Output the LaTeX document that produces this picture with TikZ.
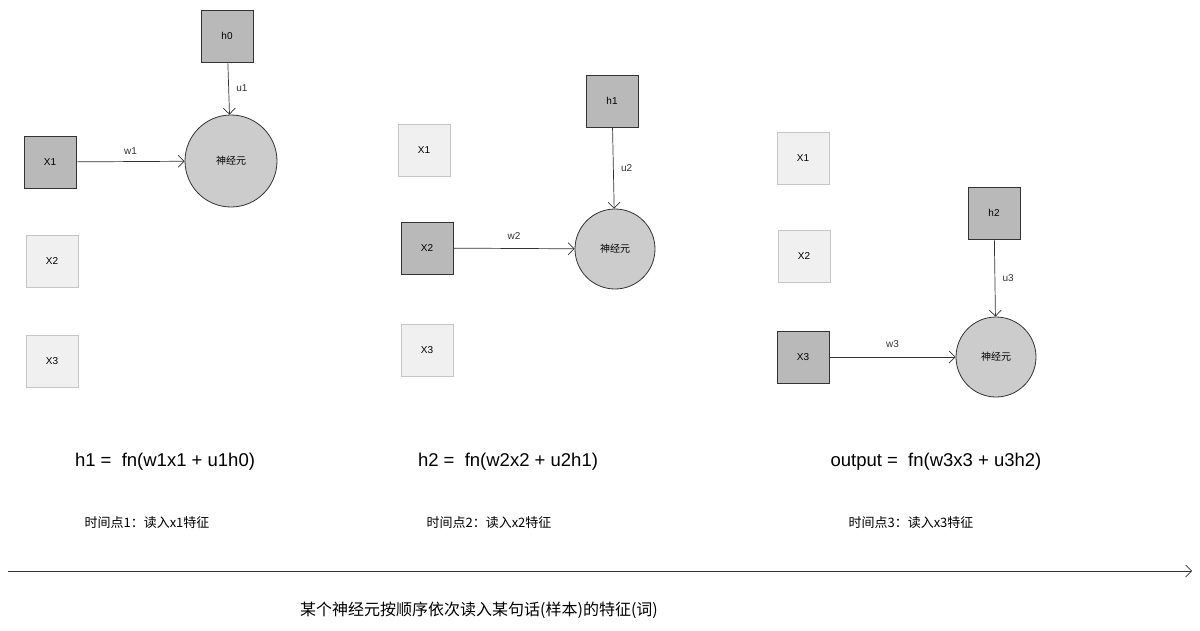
\documentclass[tikz,border=0pt]{standalone}
\usepackage{fontspec}
\setmainfont{Liberation Sans}
\newfontfamily\cjk{Noto Sans CJK SC}
\usetikzlibrary{arrows.meta}
\begin{document}
\begin{tikzpicture}[x=1pt,y=-1pt,
  dk/.style={draw=black!80,fill=gray!55,minimum size=52pt,inner sep=0pt,font=\fontsize{10}{12}\selectfont,line width=0.8pt},
  lt/.style={draw=gray!45,fill=gray!12,minimum size=52pt,inner sep=0pt,font=\fontsize{10}{12}\selectfont,line width=0.8pt},
  neu/.style={circle,draw=black!80,fill=gray!40,inner sep=0pt,font=\cjk\fontsize{10}{12}\selectfont,line width=0.8pt},
  arr/.style={-{Straight Barb[length=6pt]},line width=0.7pt,black!80},
  lab/.style={font=\fontsize{10}{12}\selectfont},
  fm/.style={font=\fontsize{18.5}{21}\selectfont},
  bm/.style={font=\cjk\fontsize{16}{19}\selectfont},
  tm/.style={font=\cjk\fontsize{13}{15}\selectfont}]
\useasboundingbox (0,0) rectangle (1200,630);
% panel 1
\node[dk] (h0) at (227,36) {h0};
\node[neu,minimum size=92pt] (n1) at (231,161) {神经元};
\node[dk] (a1) at (50,162) {X1};
\node[lt] (a2) at (52,261) {X2};
\node[lt] (a3) at (52,361) {X3};
\draw[arr] (a1) -- (n1) node[lab,midway,above=3pt] {w1};
\draw[arr] (h0) -- (n1) node[lab,midway,right=4pt] {u1};
\node[fm] (f1) at (165,462) {h1 =\ \ fn(w1x1 + u1h0)};
\node[tm] (t1) at (147,523) {时间点1：读入x1特征};
% panel 2
\node[dk] (h1) at (612,101) {h1};
\node[neu,minimum size=80pt] (n2) at (615,249) {神经元};
\node[lt] (b1) at (424,150) {X1};
\node[dk] (b2) at (427,248) {X2};
\node[lt] (b3) at (427,350) {X3};
\draw[arr] (b2) -- (n2) node[lab,midway,above=5pt] {w2};
\draw[arr] (h1) -- (n2) node[lab,midway,right=4pt] {u2};
\node[fm] (f2) at (508,462) {h2 =\ \ fn(w2x2 + u2h1)};
\node[tm] (t2) at (489,523) {时间点2：读入x2特征};
% panel 3
\node[dk] (h2) at (994,213) {h2};
\node[neu,minimum size=80pt] (n3) at (996,357) {神经元};
\node[lt] (c1) at (803,158) {X1};
\node[lt] (c2) at (804,256) {X2};
\node[dk] (c3) at (803,357) {X3};
\draw[arr] (c3) -- (n3) node[lab,midway,above=6pt] {w3};
\draw[arr] (h2) -- (n3) node[lab,midway,right=4pt] {u3};
\node[fm] (f3) at (936,462) {output =\ \ fn(w3x3 + u3h2)};
\node[tm] (t3) at (911,523) {时间点3：读入x3特征};
% timeline
\coordinate (s) at (8,571);
\coordinate (e) at (1192,571);
\draw[arr] (s) -- (e);
\node[bm] (bt) at (479,610) {某个神经元按顺序依次读入某句话(样本)的特征(词)};
\end{tikzpicture}
\end{document}
